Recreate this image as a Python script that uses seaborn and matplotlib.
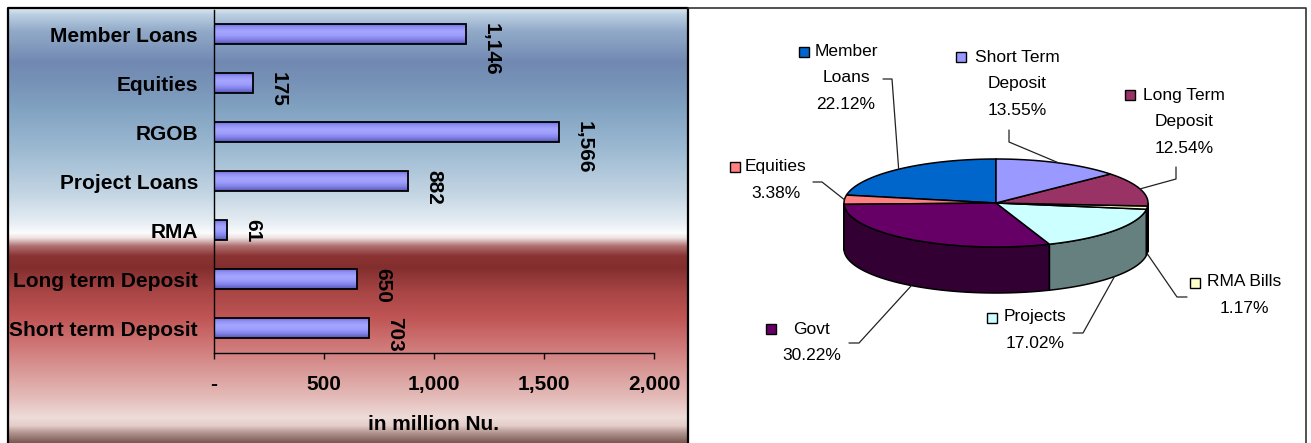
import numpy as np
import pandas as pd
import matplotlib
matplotlib.use("Agg")
import matplotlib.pyplot as plt
import seaborn as sns
from matplotlib.colors import to_rgb, LinearSegmentedColormap
from matplotlib.patches import Polygon
from matplotlib.ticker import FuncFormatter

# ---- investment portfolio (million Nu.) ----
categories = ["Member Loans", "Equities", "RGOB", "Project Loans", "RMA",
              "Long term Deposit", "Short term Deposit"]
amounts = [1146, 175, 1566, 882, 61, 650, 703]
x_ticks = [0, 500, 1000, 1500, 2000]
x_label = "in million Nu."

# ---- portfolio shares (%) ----
pie_labels = ["Member\nLoans", "Equities", "Govt", "Projects", "RMA Bills",
              "Long Term\nDeposit", "Short Term\nDeposit"]
pie_shares = [22.12, 3.38, 30.22, 17.02, 1.17, 12.54, 13.55]
pie_colors = ["#0066cc", "#ff8080", "#660066", "#ccffff", "#ffffcc",
              "#993366", "#9999ff"]

sns.set_theme(style="white")
plt.rcParams["font.family"] = ["Liberation Sans", "DejaVu Sans"]

W, H = 1311, 443
fig = plt.figure(figsize=(W / 100, H / 100), dpi=100)
fig.patch.set_facecolor("white")

# canvas axes in pixel units (background, frames, pie)
bg = fig.add_axes([0, 0, 1, 1], zorder=0)
bg.axis("off")

# vertical gradient behind the bar chart
stops = [(8, "#dce8f0"), (14, "#bcd0e2"), (30, "#93abc9"), (62, "#7189b2"),
         (80, "#7691b6"), (110, "#82a3c2"), (150, "#9dbad2"), (195, "#c5d6e4"),
         (222, "#e6edf3"), (233, "#fbfcfd"), (238, "#ede0e0"), (246, "#b07070"),
         (256, "#8a3333"), (268, "#832e2e"), (292, "#a84545"), (318, "#c05555"),
         (345, "#cf7676"), (372, "#d99a98"), (400, "#e5bfbc"), (418, "#eedcd9"),
         (426, "#e4cdc9"), (433, "#b49690"), (443, "#7a5a55")]
ys = np.arange(8, 444)
sy = np.array([s[0] for s in stops], float)
sc = np.array([to_rgb(s[1]) for s in stops])
grad = np.stack([np.interp(ys, sy, sc[:, k]) for k in range(3)], axis=-1)[:, None, :]
bg.imshow(grad, extent=(8, 688, 443, 8), origin="upper", aspect="auto",
          interpolation="bilinear", zorder=0)

# panel frames
bg.plot([8, 8, 688, 688], [443, 8, 8, 443], color="black", lw=1.6, zorder=1)
bg.plot([688, 1306, 1306], [8, 8, 443], color="#333333", lw=1.2, zorder=1)

# ---- 3-D pie ----
cx, cy, ra, rb, depth = 996, 203, 152, 44, 46


def rim(t_deg):
    t = np.radians(t_deg)
    return cx + ra * np.cos(t), cy - rb * np.sin(t)


edges = 90 + 3.6 * np.concatenate([[0], np.cumsum(pie_shares)])
for i, col in enumerate(pie_colors):
    t0, t1 = edges[i], edges[i + 1]
    lo, hi = max(t0, 180), min(t1, 360)
    if lo < hi:
        tt = np.linspace(lo, hi, 80)
        xs, yt = rim(tt)
        pts = np.concatenate([np.column_stack([xs, yt]),
                              np.column_stack([xs[::-1], yt[::-1] + depth])])
        dark = tuple(0.5 * c for c in to_rgb(col))
        bg.add_patch(Polygon(pts, closed=True, fc=dark, ec="black", lw=1.1, zorder=2))
    tt = np.linspace(t0, t1, max(4, int((t1 - t0) * 2)))
    xs, yt = rim(tt)
    pts = np.vstack([[cx, cy], np.column_stack([xs, yt])])
    bg.add_patch(Polygon(pts, closed=True, fc=col, ec="black", lw=1.1, zorder=3))

# labels, legend keys and leader lines
label_xy = [(846, 51), (776, 167), (812, 329), (1035, 317), (1244, 282),
            (1184, 95), (1017, 57)]
key_xy = [(804, 52), (735, 167), (771, 329), (992, 318), (1195, 283),
          (1130, 95), (961, 57)]
elbows = [((883, 79), (892, 79)), ((813, 182), (822, 182)),
          ((849, 343), (859, 343)), ((1073, 333), (1083, 333)),
          ((1187, 297), (1177, 297)), ((1176, 167), (1176, 179)),
          ((1009, 130), (1009, 142))]
line_h = 26.7
for i, (name, share) in enumerate(zip(pie_labels, pie_shares)):
    lines = name.split("\n") + [f"{share:.2f}%"]
    lx, ly = label_xy[i]
    for k, s in enumerate(lines):
        bg.text(lx, ly + k * line_h, s, ha="center", va="center",
                fontsize=12.5, color="black", zorder=5)
    kx, ky = key_xy[i]
    bg.plot(kx, ky, marker="s", ms=7, mfc=pie_colors[i], mec="black",
            mew=1.0, zorder=5)
    mid = 0.5 * (edges[i] + edges[i + 1])
    px, py = rim(mid)
    if 180 < mid % 360 < 360:
        py = py + depth
    (ax0, ay0), (ax1, ay1) = elbows[i]
    bg.plot([ax0, ax1, px], [ay0, ay1, py], color="#222222", lw=0.9, zorder=4)

bg.set_xlim(0, W)
bg.set_ylim(H, 0)

# ---- horizontal bar chart ----
ax = fig.add_axes([214 / W, (H - 352.7) / H, 440 / W, (352.7 - 9.5) / H], zorder=2)
ax.patch.set_alpha(0)
df = pd.DataFrame({"category": categories, "amount": amounts})
sns.barplot(data=df, x="amount", y="category", orient="h", color="#9999ff",
            saturation=1, width=0.41, edgecolor="black", linewidth=1.3, ax=ax)

shade = LinearSegmentedColormap.from_list(
    "bar", ["#6464cc", "#9292f6", "#a6a6ff", "#9c9cfc", "#8080e6", "#5656b4"])
for p in list(ax.patches):
    x0, y0 = p.get_xy()
    w, h = p.get_width(), p.get_height()
    im = ax.imshow(np.linspace(0, 1, 64)[:, None], cmap=shade, aspect="auto",
                   extent=(x0, x0 + w, y0 + h, y0), origin="upper",
                   interpolation="bilinear", zorder=p.get_zorder() - 0.01)
    im.set_clip_path(p)
    p.set_facecolor("none")

fs = 15
for i, v in enumerate(amounts):
    ax.annotate(f"{v:,}", xy=(v, i - 0.22), xytext=(11.5, 0),
                textcoords="offset points", rotation=270, ha="left", va="top",
                fontsize=fs, fontweight="bold", color="black")

ax.set_xlim(x_ticks[0], x_ticks[-1])
ax.set_ylim(len(categories) - 0.5, -0.5)
ax.set_xticks(x_ticks)
ax.xaxis.set_major_formatter(FuncFormatter(lambda v, _: "-" if v == 0 else f"{v:,.0f}"))
ax.set_ylabel("")
ax.set_xlabel(x_label, fontsize=fs, fontweight="bold", labelpad=15, color="black")
ax.tick_params(axis="y", length=0, pad=11.5, labelsize=fs, labelcolor="black")
ax.tick_params(axis="x", bottom=True, direction="out", length=4, width=1,
               color="black", pad=12, labelsize=fs, labelcolor="black")
for lbl in ax.get_xticklabels() + ax.get_yticklabels():
    lbl.set_fontweight("bold")
for side in ("top", "right"):
    ax.spines[side].set_visible(False)
for side in ("left", "bottom"):
    ax.spines[side].set_color("black")
    ax.spines[side].set_linewidth(1.0)

fig.savefig("out.png", dpi=100)
